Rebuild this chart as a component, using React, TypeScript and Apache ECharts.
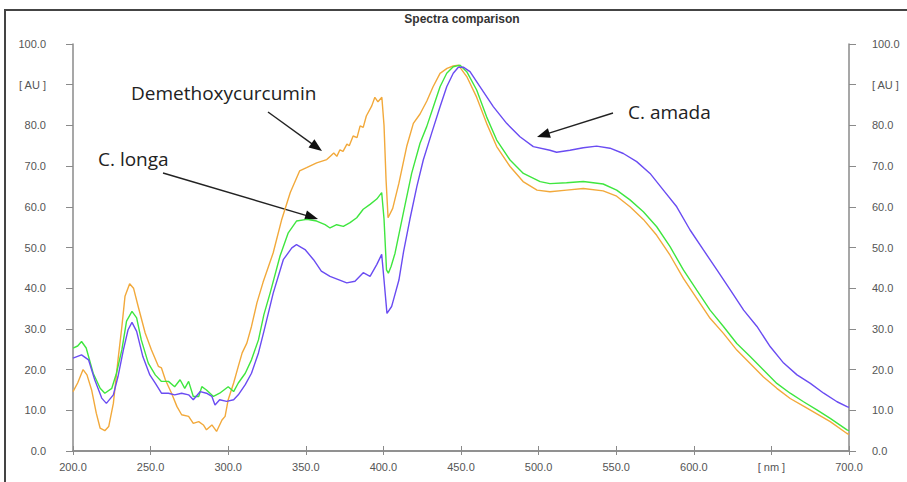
import React, { useEffect, useRef } from "react";
import * as echarts from "echarts";

const TITLE = "Spectra comparison";
const xTicks = [200, 250, 300, 350, 400, 450, 500, 550, 600, 650, 700];
const yTicks = [0, 10, 20, 30, 40, 50, 60, 70, 80, 90, 100];

const demethoxyNm = [200, 203, 206.5, 209, 212, 215, 217.5, 220.5, 223, 226, 229, 231.5, 233.5, 236.5, 239, 242, 246.5, 250.5, 255, 257, 259.5, 263.5, 267, 270, 274.5, 277.5, 281, 284, 286, 289.5, 292.5, 296, 298, 300, 303.5, 306.5, 309, 312, 315, 318.5, 322.5, 329, 334.5, 340, 346, 350.5, 357, 363.5, 366, 368, 370, 372, 374, 376.5, 378, 380.5, 383, 385, 387, 389, 392.5, 394.5, 396.5, 399, 400.4, 401.7, 403, 406, 410, 415, 419.3, 423.6, 428, 432, 436.5, 441, 445, 448.3, 453.7, 460, 466.5, 473, 481.6, 490, 499, 507.3, 518, 528.8, 541.6, 550.3, 558.9, 567.5, 576.1, 584.7, 593.3, 601.9, 610.5, 619.1, 627.7, 636.3, 644.9, 653.5, 662.1, 670.7, 679.3, 687.9, 698.7, 700];
const demethoxyAU = [14.6, 16.7, 20.0, 18.7, 15, 9.3, 5.6, 5.0, 6.0, 11.7, 22.4, 30.6, 38, 41.1, 40, 35.5, 29, 24.9, 20.8, 20.4, 17.5, 14.2, 10.9, 8.9, 8.5, 6.8, 7.2, 6.4, 5.2, 6.4, 4.8, 7.6, 8.5, 12.6, 16.7, 20.8, 24.1, 26.5, 30.6, 36.4, 41.5, 48.7, 56.9, 63.5, 68.8, 69.6, 70.8, 71.6, 72.5, 73.2, 72.4, 74, 73.6, 75.4, 75, 77.4, 77, 79.9, 79.5, 82.3, 84.8, 86.9, 85.8, 86.9, 80, 66.7, 57.3, 59.6, 65.8, 74.8, 80.5, 82.8, 86, 89.5, 92.8, 94, 94.6, 94.8, 92, 87, 80.5, 74.8, 69.9, 66.2, 64.1, 63.7, 64.1, 64.5, 63.9, 62.6, 60, 56.9, 53, 48.1, 42.4, 37.5, 32.6, 28.9, 24.8, 21.5, 18.2, 15.4, 12.9, 11, 9.1, 7.2, 4.3, 4.1];

const longaNm = [200, 203, 205.5, 208.5, 213, 217.5, 220.5, 225, 228, 231.5, 234.5, 238, 241, 244, 248.5, 253, 257, 261.5, 265.5, 269, 272, 274.5, 277.5, 281, 283, 286, 290.5, 294.5, 300, 303.5, 306.5, 311, 315, 319.5, 323, 327, 333.4, 338.7, 344, 350.6, 357, 362.4, 365.6, 369.9, 374.2, 378.5, 382.8, 387, 391.4, 395.7, 398.9, 400.4, 402, 403.2, 405, 407.5, 412.8, 418.2, 423.6, 427.9, 432.2, 436.5, 440.8, 445, 449.4, 453.7, 460.1, 466.5, 473, 481.6, 490.2, 501, 507.3, 518, 528.8, 541.6, 550.3, 558.9, 567.5, 576.1, 584.7, 593.3, 601.9, 610.5, 619.1, 627.7, 636.3, 644.9, 653.5, 662.1, 670.7, 679.3, 687.9, 698.7, 700];
const longaAU = [25.3, 25.8, 26.9, 25.3, 19.1, 15.4, 14.2, 15.4, 19.1, 24.9, 31.9, 34.3, 32.7, 27.3, 21.6, 18.7, 17.1, 17.1, 15.8, 17.5, 15.4, 17.1, 13.4, 13.4, 15.8, 15, 13.4, 14.2, 15.8, 14.6, 16.7, 19.1, 22.4, 27.3, 33.5, 38.8, 47.9, 53.6, 56.5, 56.9, 56.5, 55.6, 54.8, 55.6, 55.2, 56.1, 57.3, 59.4, 60.6, 61.9, 63.5, 57, 44.5, 43.7, 45.4, 48.6, 58.4, 68.2, 75.6, 79.7, 84.6, 89.5, 92.8, 94.4, 94.8, 93.2, 88.7, 82.1, 76.4, 71.5, 68.2, 66.2, 65.7, 65.9, 66.2, 65.6, 64.1, 61.7, 58.8, 55.1, 50.2, 44.5, 39.5, 34.6, 30.6, 26.4, 23.2, 19.9, 16.6, 14.2, 12.1, 10.1, 8.0, 5.2, 5.0];

const amadaNm = [200, 205.5, 210, 214, 218.5, 221.5, 226, 229, 232.5, 235.5, 238, 241, 245, 249.5, 253, 257, 261.5, 265.5, 270, 274.5, 277.5, 282, 286, 289.5, 291.5, 294.5, 299, 303.5, 306.5, 311, 315, 319.5, 323, 329, 335.5, 341, 344, 349.5, 355, 360, 365.6, 371, 376.4, 381.7, 387, 391.4, 395.7, 398.9, 400.4, 402.3, 405.3, 406.4, 410, 413, 417.1, 421.5, 425.7, 431.1, 436.5, 440.8, 445, 448.3, 451.5, 455.8, 462.2, 470.8, 479.4, 488, 496.6, 507.3, 511.6, 520.2, 528.8, 537.4, 546, 554.6, 563.2, 571.8, 580.4, 589, 597.6, 606.2, 614.9, 623.5, 632.1, 640.7, 649.3, 657.9, 666.5, 675.1, 683.7, 692.3, 698.7, 700];
const amadaAU = [22.8, 23.6, 22.4, 17.5, 13, 11.7, 13.8, 18.3, 24.9, 29.8, 31.6, 29.4, 23.2, 18.7, 16.7, 14.2, 14.2, 13.8, 14.2, 13.8, 12.6, 14.6, 14.2, 13.4, 11.3, 12.6, 12.2, 12.6, 13.8, 16.3, 19.1, 24.1, 29.4, 38.8, 47, 49.9, 50.7, 49.5, 47, 44.2, 42.9, 42.1, 41.3, 41.7, 43.8, 42.9, 45.8, 48.3, 42, 33.8, 35.5, 37, 42, 49, 57, 64.9, 71.5, 78.1, 84.6, 89.5, 92.8, 94.3, 94.3, 93.2, 89.5, 84.6, 80.5, 77.2, 74.8, 73.9, 73.4, 73.9, 74.5, 74.9, 74.4, 73.1, 71.1, 68.2, 64.1, 60, 54.3, 49.4, 44.5, 39.6, 34.6, 30.6, 25.6, 21.6, 18.7, 16.6, 14.2, 12.1, 10.9, 10.7];

const seriesNames = ["Demethoxycurcumin", "C. longa", "C. amada"];
const seriesColors = ["#F2A93B", "#3FE63F", "#6A4CF2"];

function arrow(x1: number, y1: number, x2: number, y2: number) {
  const dx = x2 - x1;
  const dy = y2 - y1;
  const len = Math.sqrt(dx * dx + dy * dy);
  const ux = dx / len;
  const uy = dy / len;
  const hl = 13;
  const hw = 5;
  const bx = x2 - ux * hl;
  const by = y2 - uy * hl;
  const px = -uy;
  const py = ux;
  return [
    {
      type: "line",
      shape: { x1, y1, x2: bx + ux * 2, y2: by + uy * 2 },
      style: { stroke: "#222", lineWidth: 1.4 },
    },
    {
      type: "polygon",
      shape: {
        points: [
          [x2, y2],
          [bx + px * hw, by + py * hw],
          [bx - px * hw, by - py * hw],
        ],
      },
      style: { fill: "#111" },
    },
  ];
}

export default function App() {
  const ref = useRef<HTMLDivElement>(null);
  useEffect(() => {
    if (!ref.current) return;
    const chart = echarts.init(ref.current, null, { renderer: "svg" });
    const axisColor = "#8a8a8a";
    const labelStyle = {
      color: "#555",
      fontSize: 11,
      fontFamily: "Liberation Sans, Arial, sans-serif",
    };
    const yFormatter = (v: number) => (v === 90 ? "[ AU ]" : v.toFixed(1));
    const xFormatter = (v: number) => (v === 650 ? "[ nm ]" : v.toFixed(1));
    const datasets = [
      demethoxyNm.map((x, i) => [x, demethoxyAU[i]]),
      longaNm.map((x, i) => [x, longaAU[i]]),
      amadaNm.map((x, i) => [x, amadaAU[i]]),
    ];
    const annFont = "19px 'Open Sans', sans-serif";
    chart.setOption({
      animation: false,
      backgroundColor: "#ffffff",
      grid: { left: 73, right: 58, top: 44, bottom: 31 },
      xAxis: [
        {
          type: "value",
          position: "bottom",
          min: xTicks[0],
          max: xTicks[xTicks.length - 1],
          interval: 50,
          axisLine: { show: true, lineStyle: { color: axisColor, width: 1.5 } },
          axisTick: { show: true, inside: false, length: 4, lineStyle: { color: axisColor } },
          axisLabel: { ...labelStyle, margin: 10, formatter: xFormatter },
          splitLine: { show: false },
        },
        {
          type: "value",
          position: "top",
          min: xTicks[0],
          max: xTicks[xTicks.length - 1],
          interval: 50,
          axisLine: { show: true, lineStyle: { color: axisColor, width: 1.5 } },
          axisTick: { show: true, inside: false, length: 5, lineStyle: { color: axisColor } },
          axisLabel: { show: false },
          splitLine: { show: false },
        },
        {
          type: "value",
          position: "bottom",
          min: xTicks[0],
          max: xTicks[xTicks.length - 1],
          interval: 50,
          axisLine: { show: false },
          axisTick: { show: true, inside: true, length: 4, lineStyle: { color: axisColor } },
          axisLabel: { show: false },
          splitLine: { show: false },
        },
      ],
      yAxis: [
        {
          type: "value",
          position: "left",
          min: yTicks[0],
          max: yTicks[yTicks.length - 1],
          interval: 10,
          axisLine: { show: true, lineStyle: { color: axisColor, width: 1.5 } },
          axisTick: { show: true, inside: false, length: 7, lineStyle: { color: axisColor } },
          axisLabel: { ...labelStyle, margin: 27, formatter: yFormatter },
          splitLine: { show: false },
        },
        {
          type: "value",
          position: "right",
          min: yTicks[0],
          max: yTicks[yTicks.length - 1],
          interval: 10,
          axisLine: { show: true, lineStyle: { color: axisColor, width: 1.5 } },
          axisTick: { show: true, inside: false, length: 7, lineStyle: { color: axisColor } },
          axisLabel: { ...labelStyle, margin: 23, formatter: yFormatter },
          splitLine: { show: false },
        },
      ],
      series: datasets.map((d, i) => ({
        name: seriesNames[i],
        type: "line",
        xAxisIndex: 0,
        yAxisIndex: 0,
        data: d,
        showSymbol: false,
        symbol: "none",
        smooth: false,
        lineStyle: { color: seriesColors[i], width: 1.4 },
        z: 3 + i,
      })),
      graphic: [
        {
          type: "rect",
          shape: { x: 5, y: 10, width: 920, height: 500 },
          style: { fill: "none", stroke: "#444", lineWidth: 2 },
          silent: true,
        },
        {
          type: "text",
          x: 462,
          y: 19,
          style: {
            text: TITLE,
            fill: "#333",
            font: "bold 12px 'Liberation Sans', Arial, sans-serif",
            textAlign: "center",
            textVerticalAlign: "middle",
          },
        },
        {
          type: "text",
          x: 131,
          y: 93,
          style: {
            text: seriesNames[0],
            fill: "#222",
            font: annFont,
            textAlign: "left",
            textVerticalAlign: "middle",
          },
        },
        {
          type: "text",
          x: 98,
          y: 159,
          style: {
            text: seriesNames[1],
            fill: "#222",
            font: annFont,
            textAlign: "left",
            textVerticalAlign: "middle",
          },
        },
        {
          type: "text",
          x: 628,
          y: 112,
          style: {
            text: seriesNames[2],
            fill: "#222",
            font: annFont,
            textAlign: "left",
            textVerticalAlign: "middle",
          },
        },
        ...arrow(268, 112, 322, 151),
        ...arrow(163, 173, 318, 219),
        ...arrow(613, 113, 537, 137),
      ],
    });
    return () => chart.dispose();
  }, []);
  return (
    <div
      ref={ref}
      style={{ position: "absolute", left: 0, top: 0, width: 907, height: 482 }}
    />
  );
}
